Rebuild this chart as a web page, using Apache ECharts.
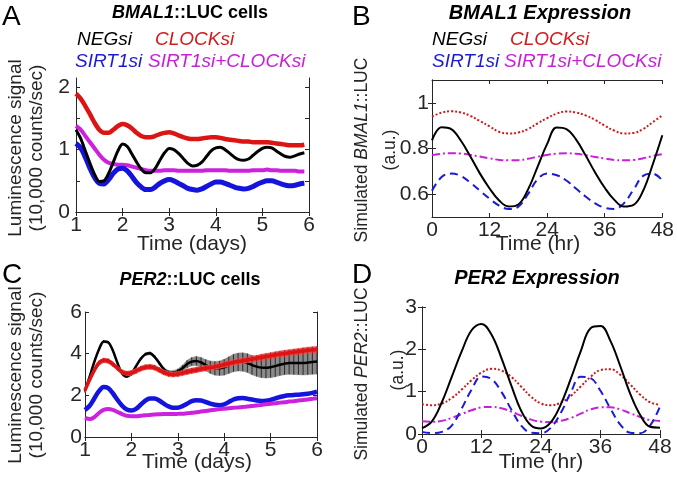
<!DOCTYPE html>
<html><head><meta charset="utf-8">
<script src="https://cdn.jsdelivr.net/npm/echarts@6/dist/echarts.min.js"></script>
<style>html,body{margin:0;padding:0;background:#fff}#c{width:677px;height:480px}</style>
</head><body><div id="c"></div>
<script>
// ---------- Panel A: BMAL1::LUC cells (days) ----------
const daysA = [1.0,1.1,1.2,1.3,1.4,1.5,1.6,1.7,1.8,1.9,2.0,2.1,2.2,2.3,2.4,2.5,2.6,2.7,2.8,2.9,3.0,3.1,3.2,3.3,3.4,3.5,3.6,3.7,3.8,3.9,4.0,4.1,4.2,4.3,4.4,4.5,4.6,4.7,4.8,4.9,5.0,5.1,5.2,5.3,5.4,5.5,5.6,5.7,5.8,5.9];
const negA = [1.32,1.18,0.98,0.78,0.60,0.49,0.50,0.62,0.80,0.98,1.09,1.05,0.93,0.80,0.69,0.63,0.63,0.70,0.83,0.95,1.02,1.00,0.94,0.86,0.78,0.74,0.75,0.80,0.89,0.98,1.03,1.04,1.00,0.94,0.88,0.84,0.83,0.85,0.91,0.97,1.02,1.04,1.03,0.98,0.93,0.89,0.88,0.90,0.93,0.95];
const clockA = [1.90,1.82,1.70,1.57,1.43,1.32,1.27,1.27,1.32,1.38,1.41,1.39,1.34,1.27,1.22,1.20,1.20,1.22,1.25,1.27,1.28,1.26,1.23,1.20,1.18,1.17,1.17,1.18,1.19,1.20,1.20,1.19,1.17,1.16,1.15,1.14,1.13,1.13,1.12,1.12,1.12,1.12,1.11,1.10,1.09,1.08,1.07,1.07,1.07,1.08];
const sirtA = [1.10,1.03,0.88,0.70,0.55,0.46,0.45,0.52,0.62,0.69,0.70,0.66,0.57,0.47,0.40,0.36,0.36,0.40,0.46,0.50,0.52,0.50,0.46,0.42,0.38,0.36,0.35,0.37,0.41,0.45,0.48,0.48,0.46,0.43,0.40,0.38,0.37,0.38,0.41,0.45,0.48,0.50,0.50,0.48,0.45,0.43,0.42,0.43,0.45,0.46];
const bothA = [1.38,1.32,1.22,1.12,1.02,0.92,0.84,0.79,0.77,0.76,0.76,0.75,0.73,0.71,0.69,0.67,0.66,0.66,0.66,0.67,0.67,0.67,0.66,0.66,0.66,0.66,0.66,0.66,0.67,0.67,0.67,0.67,0.67,0.66,0.66,0.66,0.66,0.66,0.67,0.67,0.67,0.68,0.67,0.67,0.66,0.66,0.66,0.66,0.65,0.65];

// ---------- Panel C: PER2::LUC cells (days) ----------
const daysC = [1.0,1.1,1.2,1.3,1.4,1.5,1.6,1.7,1.8,1.9,2.0,2.1,2.2,2.3,2.4,2.5,2.6,2.7,2.8,2.9,3.0,3.1,3.2,3.3,3.4,3.5,3.6,3.7,3.8,3.9,4.0,4.1,4.2,4.3,4.4,4.5,4.6,4.7,4.8,4.9,5.0,5.1,5.2,5.3,5.4,5.5,5.6,5.7,5.8,5.9,6.0];
const negC = [2.20,2.90,3.60,4.20,4.58,4.55,4.15,3.55,3.05,2.90,3.05,3.40,3.75,3.97,4.02,3.85,3.55,3.25,3.10,3.08,3.15,3.30,3.50,3.62,3.65,3.58,3.45,3.35,3.30,3.30,3.35,3.45,3.55,3.60,3.60,3.55,3.45,3.38,3.33,3.32,3.35,3.40,3.47,3.52,3.55,3.55,3.55,3.55,3.57,3.60,3.62];
const negErrC = [0.05,0.05,0.05,0.05,0.05,0.05,0.05,0.05,0.05,0.05,0.06,0.06,0.06,0.07,0.07,0.07,0.08,0.08,0.09,0.10,0.12,0.15,0.18,0.20,0.22,0.24,0.27,0.30,0.33,0.35,0.38,0.40,0.42,0.43,0.44,0.45,0.46,0.47,0.48,0.49,0.50,0.51,0.52,0.53,0.54,0.55,0.56,0.57,0.58,0.59,0.60];
const clockC = [2.25,2.75,3.20,3.55,3.68,3.65,3.50,3.30,3.12,3.05,3.07,3.17,3.28,3.35,3.37,3.33,3.22,3.10,3.02,3.00,3.02,3.07,3.13,3.18,3.22,3.27,3.30,3.33,3.37,3.42,3.48,3.53,3.58,3.62,3.66,3.70,3.74,3.78,3.82,3.86,3.90,3.94,3.98,4.01,4.04,4.07,4.10,4.13,4.16,4.18,4.20];
const clockErrC = [0.10,0.10,0.10,0.11,0.11,0.11,0.11,0.11,0.11,0.11,0.12,0.12,0.12,0.12,0.12,0.12,0.12,0.12,0.12,0.12,0.12,0.12,0.13,0.13,0.13,0.13,0.13,0.13,0.13,0.13,0.14,0.14,0.14,0.14,0.14,0.14,0.14,0.14,0.15,0.15,0.15,0.15,0.15,0.15,0.15,0.15,0.15,0.15,0.15,0.15,0.15];
const sirtC = [1.30,1.50,1.85,2.20,2.40,2.35,2.10,1.78,1.50,1.32,1.27,1.35,1.55,1.75,1.85,1.85,1.75,1.60,1.47,1.40,1.40,1.48,1.60,1.72,1.77,1.75,1.68,1.60,1.55,1.53,1.57,1.68,1.80,1.86,1.87,1.84,1.80,1.75,1.73,1.74,1.78,1.85,1.92,1.97,2.00,2.02,2.03,2.05,2.08,2.12,2.17];
const bothC = [0.92,0.86,0.95,1.15,1.30,1.35,1.30,1.20,1.10,1.02,1.00,1.00,1.02,1.04,1.06,1.08,1.09,1.10,1.10,1.10,1.11,1.12,1.14,1.16,1.19,1.22,1.25,1.28,1.31,1.34,1.36,1.38,1.40,1.42,1.44,1.46,1.49,1.51,1.54,1.57,1.60,1.62,1.65,1.67,1.70,1.72,1.75,1.78,1.80,1.83,1.86];

// ---------- Panel B: simulated BMAL1 (hours) ----------
const hours = [0,2,4,6,8,10,12,14,16,18,20,22,24,26,28,30,32,34,36,38,40,42,44,46,48];
const negB = [0.836,0.893,0.885,0.835,0.765,0.690,0.625,0.572,0.546,0.555,0.620,0.720,0.820,0.892,0.885,0.840,0.770,0.695,0.628,0.575,0.546,0.553,0.615,0.730,0.858];
const clockB = [0.940,0.957,0.963,0.958,0.943,0.920,0.897,0.873,0.866,0.870,0.885,0.910,0.933,0.953,0.962,0.958,0.945,0.925,0.900,0.878,0.866,0.868,0.885,0.915,0.945];
const sirtB = [0.615,0.675,0.690,0.680,0.650,0.615,0.580,0.550,0.535,0.545,0.600,0.665,0.690,0.683,0.660,0.625,0.590,0.560,0.540,0.535,0.560,0.620,0.680,0.690,0.660];
const bothB = [0.771,0.777,0.779,0.778,0.772,0.765,0.757,0.750,0.748,0.749,0.755,0.764,0.772,0.777,0.779,0.777,0.771,0.763,0.756,0.750,0.748,0.750,0.757,0.767,0.775];

// ---------- Panel D: simulated PER2 (hours) ----------
const negD = [0.14,0.30,0.75,1.35,1.95,2.45,2.60,2.35,1.80,1.15,0.55,0.20,0.13,0.28,0.70,1.30,1.95,2.50,2.55,2.20,1.60,0.95,0.45,0.17,0.15];
const clockD = [0.70,0.68,0.72,0.85,1.05,1.27,1.45,1.54,1.50,1.35,1.12,0.88,0.72,0.68,0.74,0.90,1.12,1.35,1.51,1.53,1.40,1.17,0.93,0.75,0.69];
const sirtD = [0.05,0.02,0.05,0.20,0.60,1.05,1.36,1.30,1.00,0.58,0.20,0.03,0.02,0.15,0.50,0.98,1.35,1.32,1.02,0.60,0.22,0.03,0.02,0.20,0.65];
const bothD = [0.30,0.29,0.31,0.38,0.47,0.56,0.63,0.64,0.61,0.53,0.43,0.34,0.29,0.28,0.31,0.38,0.48,0.58,0.63,0.63,0.58,0.49,0.40,0.33,0.31];

// tick labels
const ticksAy = [0, 1, 2];
const ticksBy = [0.6, 0.8, 1];
const ticksCy = [0, 2, 4, 6];
const ticksDy = [0, 1, 2, 3];

// ---------- styling ----------
const FONT = '"Liberation Sans", Arial, Helvetica, sans-serif';
const AX = '#262626';
const BLACK = '#000000', RED = '#dd1414', BLUE = '#1414dd', MAG = '#cc22dd';

const grids = [
  {left: 76, top: 78, width: 233, height: 134},   // A
  {left: 432, top: 80, width: 234, height: 137},  // B
  {left: 85, top: 312, width: 232, height: 125},  // C
  {left: 422, top: 307, width: 238, height: 127}  // D
];

const xRanges = [[1, 6, 1], [0, 48, 12], [1, 6, 1], [0, 48, 12]];
const yRanges = [[0, 2.15, ticksAy, [0,0.5,1,1.5,2]], [0.5, 1.1, ticksBy, ticksBy], [0, 6, ticksCy, ticksCy], [0, 3, ticksDy, ticksDy]];
const yMargins = [6, 3, 3, 5];

const xAxes = [], yAxes = [];
grids.forEach((g, i) => {
  const [mn, mx, iv] = xRanges[i];
  const base = {type: 'value', gridIndex: i, min: mn, max: mx, interval: iv,
    axisLine: {show: true, lineStyle: {color: AX, width: 1}},
    axisTick: {show: true, inside: true, length: 4, lineStyle: {color: AX}},
    splitLine: {show: false}};
  xAxes.push(Object.assign({}, base, {position: 'bottom',
    axisLabel: {color: AX, fontSize: 21, fontFamily: FONT, margin: 3}}));
  xAxes.push(Object.assign({}, base, {position: 'top', axisLabel: {show: false}}));
  const [ymn, ymx, lab, tk] = yRanges[i];
  const ybase = {type: 'value', gridIndex: i, min: ymn, max: ymx,
    axisLine: {show: true, lineStyle: {color: AX, width: 1}},
    axisTick: {show: true, inside: true, length: 4, lineStyle: {color: AX}, customValues: tk},
    splitLine: {show: false}};
  yAxes.push(Object.assign({}, ybase, {position: 'left',
    axisLabel: {color: AX, fontSize: 21, fontFamily: FONT, margin: yMargins[i], customValues: lab,
      formatter: v => String(+v.toFixed(2))}}));
  yAxes.push(Object.assign({}, ybase, {position: 'right', axisLabel: {show: false}}));
});

const zip = (xs, ys) => xs.map((x, i) => [x, ys[i]]);

function line(panel, xs, ys, color, width, type, smooth, z) {
  return {type: 'line', xAxisIndex: panel * 2, yAxisIndex: panel * 2, data: zip(xs, ys),
    showSymbol: false, symbol: 'none', smooth: smooth, animation: false, silent: true, z: z || 3,
    lineStyle: {color: color, width: width, type: type || 'solid', cap: 'butt'}};
}

function band(panel, xs, mean, err, fill, hatch, z) {
  return {type: 'custom', xAxisIndex: panel * 2, yAxisIndex: panel * 2, animation: false, silent: true, z: z,
    data: xs.map((x, i) => [x, mean[i] - err[i], mean[i] + err[i]]),
    renderItem: function (params, api) {
      const i = params.dataIndex;
      const lo = api.coord([xs[i], mean[i] - err[i]]);
      const hi = api.coord([xs[i], mean[i] + err[i]]);
      const ch = [];
      if (i < xs.length - 1) {
        const lo2 = api.coord([xs[i + 1], mean[i + 1] - err[i + 1]]);
        const hi2 = api.coord([xs[i + 1], mean[i + 1] + err[i + 1]]);
        ch.push({type: 'polygon', shape: {points: [lo, hi, hi2, lo2]}, style: {fill: fill, stroke: fill, lineWidth: 0.5}});
      }
      ch.push({type: 'line', shape: {x1: lo[0], y1: lo[1], x2: hi[0], y2: hi[1]}, style: {stroke: hatch, lineWidth: 1}});
      return {type: 'group', children: ch};
    }};
}

const series = [
  // A
  line(0, daysA, bothA, MAG, 4, 'solid', 0.3, 3),
  line(0, daysA, clockA, RED, 4.5, 'solid', 0.3, 3),
  line(0, daysA, sirtA, BLUE, 5, 'solid', 0.3, 4),
  line(0, daysA, negA, BLACK, 3, 'solid', 0.3, 5),
  // B
  line(1, hours, clockB, '#d01818', 2, [2, 2], 0.4, 3),
  line(1, hours, bothB, '#c820d8', 2, [8, 3, 2, 3], 0.4, 3),
  line(1, hours, sirtB, '#1a1ad8', 2, [8, 5], 0.4, 4),
  line(1, hours, negB, BLACK, 2, 'solid', 0.4, 5),
  // C
  band(2, daysC, negC, negErrC, '#8a8a8a', '#2a2a2a', 2),
  line(2, daysC, negC, BLACK, 2.5, 'solid', 0.3, 3),
  band(2, daysC, clockC, clockErrC, '#e25050', '#cc1010', 4),
  line(2, daysC, clockC, RED, 3.5, 'solid', 0.3, 5),
  line(2, daysC, sirtC, BLUE, 4.5, 'solid', 0.3, 5),
  line(2, daysC, bothC, MAG, 4, 'solid', 0.3, 5),
  // D
  line(3, hours, clockD, '#d01818', 2, [2, 2], 0.4, 3),
  line(3, hours, bothD, '#c820d8', 2, [8, 3, 2, 3], 0.4, 3),
  line(3, hours, sirtD, '#1a1ad8', 2, [8, 5], 0.4, 4),
  line(3, hours, negD, BLACK, 2, 'solid', 0.4, 5)
];

// ---------- text ----------
function T(x, y, text, o) {
  o = o || {};
  const size = o.size || 19;
  const base = {fontFamily: FONT, fontSize: size, fontWeight: o.weight || 'normal', fontStyle: o.style || 'normal', fill: o.color || '#000', color: o.color || '#000'};
  const rich = {};
  Object.keys(o.rich || {}).forEach(k => { rich[k] = Object.assign({}, base, o.rich[k]); });
  rich.n = Object.assign({}, base);
  return {type: 'text', x: x, y: y, rotation: o.rot || 0, silent: true, z: 100,
    style: Object.assign({text: text, rich: rich,
      align: o.align || 'center', verticalAlign: 'middle',
      textAlign: o.align || 'center', textVerticalAlign: 'middle'}, base)};
}

const it = {fontStyle: 'italic'};
const graphics = [
  T(2, 17, 'A', {size: 28, align: 'left'}),
  T(352, 17, 'B', {size: 28, align: 'left'}),
  T(2, 275, 'C', {size: 28, align: 'left'}),
  T(352, 275, 'D', {size: 28, align: 'left'}),
  // titles
  T(190, 13, '{i|BMAL1}{n|::LUC cells}', {size: 18, weight: 'bold', rich: {i: it}}),
  T(540, 13, 'BMAL1 Expression', {size: 20, weight: 'bold', style: 'italic'}),
  T(190, 280, '{i|PER2}{n|::LUC cells}', {size: 18, weight: 'bold', rich: {i: it}}),
  T(537, 278, 'PER2 Expression', {size: 20, weight: 'bold', style: 'italic'}),
  // legends A
  T(77, 40, 'NEGsi', {style: 'italic', align: 'left', color: '#000'}),
  T(155, 40, 'CLOCKsi', {style: 'italic', align: 'left', color: '#d41a1a'}),
  T(75, 62, 'SIRT1si', {style: 'italic', align: 'left', color: '#1a1ad8'}),
  T(148, 62, 'SIRT1si+CLOCKsi', {style: 'italic', align: 'left', color: '#c820d8'}),
  // legends B
  T(432, 40, 'NEGsi', {style: 'italic', align: 'left', color: '#000'}),
  T(510, 40, 'CLOCKsi', {style: 'italic', align: 'left', color: '#d41a1a'}),
  T(432, 62, 'SIRT1si', {style: 'italic', align: 'left', color: '#1a1ad8'}),
  T(504, 62, 'SIRT1si+CLOCKsi', {style: 'italic', align: 'left', color: '#c820d8'}),
  // axis names
  T(16, 148, 'Luminescence signal', {rot: Math.PI / 2, color: AX}),
  T(37, 148, '(10,000 counts/sec)', {rot: Math.PI / 2, color: AX}),
  T(16, 375, 'Luminescence signal', {rot: Math.PI / 2, color: AX}),
  T(37, 375, '(10,000 counts/sec)', {rot: Math.PI / 2, color: AX}),
  T(362, 150, '{n|Simulated }{i|BMAL1}{n|::LUC}', {size: 17.5, rot: Math.PI / 2, color: AX, rich: {i: it}}),
  T(390, 150, '(a.u.)', {size: 17.5, rot: Math.PI / 2, color: AX}),
  T(362, 374, '{n|Simulated }{i|PER2}{n|::LUC}', {size: 17.5, rot: Math.PI / 2, color: AX, rich: {i: it}}),
  T(398, 370, '(a.u.)', {size: 17.5, rot: Math.PI / 2, color: AX}),
  T(192, 244, 'Time (days)', {size: 21, color: AX}),
  T(538, 244, 'Time (hr)', {size: 21, color: AX}),
  T(197, 462, 'Time (days)', {size: 21, color: AX}),
  T(541, 462, 'Time (hr)', {size: 21, color: AX})
];

const chart = echarts.init(document.getElementById('c'), null, {renderer: 'canvas'});
chart.setOption({
  animation: false,
  backgroundColor: '#fff',
  grid: grids.map(g => Object.assign({containLabel: false}, g)),
  xAxis: xAxes,
  yAxis: yAxes,
  series: series,
  graphic: {elements: graphics}
});
</script></body></html>
